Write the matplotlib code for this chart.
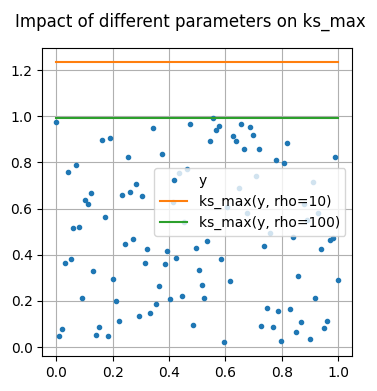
import numpy as np
import matplotlib
matplotlib.use('Agg')
import matplotlib.pyplot as plt

title = "Impact of different parameters on ks_max"
series_label = "y"
rho_values = [10, 100]
y_values = [
    0.975, 0.048, 0.078, 0.364, 0.759, 0.381, 0.516, 0.789, 0.520, 0.214,
    0.637, 0.621, 0.668, 0.329, 0.053, 0.087, 0.899, 0.564, 0.048, 0.906,
    0.295, 0.199, 0.113, 0.660, 0.447, 0.824, 0.672, 0.468, 0.707, 0.136,
    0.655, 0.364, 0.425, 0.147, 0.949, 0.186, 0.264, 0.837, 0.358, 0.416,
    0.208, 0.629, 0.387, 0.754, 0.221, 0.543, 0.773, 0.967, 0.097, 0.431,
    0.335, 0.269, 0.214, 0.460, 0.893, 0.991, 0.939, 0.958, 0.380, 0.022,
    0.607, 0.286, 0.915, 0.893, 0.689, 0.967, 0.858, 0.581, 0.954, 0.919,
    0.741, 0.858, 0.091, 0.438, 0.170, 0.494, 0.087, 0.812, 0.156, 0.026,
    0.798, 0.884, 0.165, 0.477, 0.065, 0.308, 0.108, 0.620, 0.550, 0.035,
    0.716, 0.212, 0.581, 0.425, 0.082, 0.113, 0.463, 0.472, 0.824, 0.290,
]


def ks_max(y, rho):
    m = np.max(y)
    return m + np.log(np.sum(np.exp(rho * (y - m)))) / rho


y = np.array(y_values)
x = np.linspace(0, 1, len(y))

W, H = 377, 391
fig = plt.figure(figsize=(W / 100, H / 100), dpi=100)
ax = fig.add_axes([42.3 / W, 35 / H, 310 / W, 308 / H])
ax.plot(x, y, '.', label=series_label)
for rho in rho_values:
    ax.plot(x, ks_max(y, rho) * np.ones_like(x), label=f'ks_max(y, rho={rho})')
ax.grid(True)
ax.legend(loc='center right')
fig.text(190.8 / W, 1 - 27 / H, title, ha='center', va='baseline', fontsize=12)
fig.savefig('out.png', dpi=100)
